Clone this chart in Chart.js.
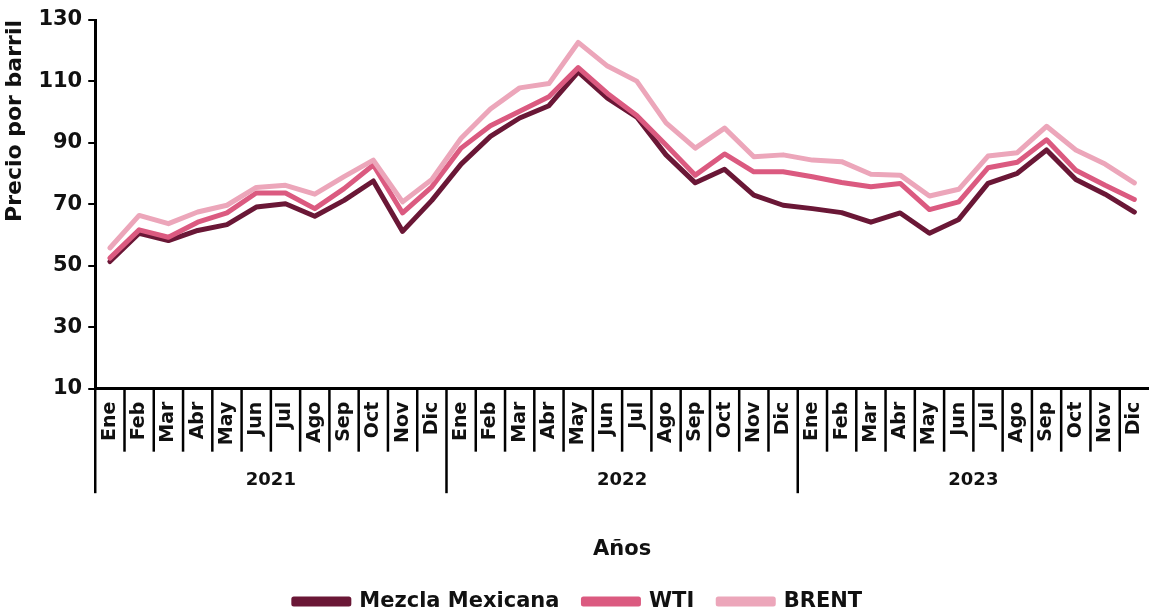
<!DOCTYPE html>
<html>
<head>
<meta charset="utf-8">
<script src="https://cdn.jsdelivr.net/npm/chart.js@4.4.0/dist/chart.umd.min.js"></script>
<style>
  html, body { margin: 0; padding: 0; background: #fff; }
  #wrap { width: 1149px; height: 610px; }
</style>
</head>
<body>
<div id="wrap"><canvas id="grafico"></canvas></div>
<script>
const meses = ["Ene","Feb","Mar","Abr","May","Jun","Jul","Ago","Sep","Oct","Nov","Dic"];
const anios = ["2021","2022","2023"];
const categorias = [].concat(meses, meses, meses);

const mezcla = [51.4, 60.6, 58.2, 61.5, 63.4, 69.1, 70.2, 66.1, 71.3, 77.6, 61.2, 71.3,
                83.1, 92.1, 98.1, 102.1, 113.1, 104.6, 98.4, 86.1, 77.0, 81.4, 73.0, 69.7,
                68.6, 67.3, 64.2, 67.2, 60.6, 65.1, 76.8, 80.1, 87.7, 78.1, 73.3, 67.5];
const wti = [52.5, 61.7, 59.3, 64.2, 67.2, 73.7, 73.7, 68.6, 75.1, 82.8, 67.2, 75.7,
             88.3, 95.6, 100.3, 105.0, 114.5, 106.1, 98.9, 89.3, 79.5, 86.4, 80.6, 80.6,
             79.0, 77.1, 75.7, 76.8, 68.3, 70.8, 81.9, 83.7, 91.0, 81.1, 76.2, 71.6];
const brent = [55.8, 66.4, 63.7, 67.5, 69.7, 75.5, 76.2, 73.3, 79.0, 84.4, 70.8, 78.1,
               91.5, 101.0, 107.9, 109.3, 122.7, 115.0, 110.1, 96.5, 88.3, 94.8, 85.5, 86.1,
               84.4, 83.9, 79.8, 79.5, 72.7, 74.9, 85.7, 86.8, 95.4, 87.7, 83.1, 77.0];

const colores = { mezcla: "#6a1736", wti: "#db5a80", brent: "#eca6ba" };
const fuente = "'DejaVu Sans', sans-serif";

function serie(label, data, color, orden) {
  return {
    label: label,
    data: data,
    borderColor: color,
    backgroundColor: color,
    borderWidth: 5,
    borderCapStyle: "round",
    borderJoinStyle: "round",
    pointRadius: 0,
    tension: 0,
    order: orden,
  };
}

// separadores de meses y años en el eje x (sacados de la escala)
const separadores = {
  id: "separadores",
  afterDraw(chart) {
    const x = chart.scales.x;
    const x2 = chart.scales.x2;
    const c = chart.ctx;
    const paso = x.getPixelForValue(1) - x.getPixelForValue(0);
    c.save();
    c.strokeStyle = "#000";
    c.lineWidth = 2.5;
    for (let i = 0; i < categorias.length; i++) {
      const px = x.getPixelForValue(i) - paso / 2;
      const fin = i % 12 === 0 ? x2.top + 43 : x.top + 63;
      c.beginPath();
      c.moveTo(px, x.top);
      c.lineTo(px, fin);
      c.stroke();
    }
    c.restore();
  },
};

// sin margen extra a los lados por las etiquetas giradas
function sinRelleno(scale) {
  scale.paddingLeft = 0;
  scale.paddingRight = 0;
}

const ctx = document.getElementById("grafico").getContext("2d");
new Chart(ctx, {
  type: "line",
  data: {
    labels: categorias,
    datasets: [
      serie("Mezcla Mexicana", mezcla, colores.mezcla, 3),
      serie("WTI", wti, colores.wti, 2),
      serie("BRENT", brent, colores.brent, 1),
    ],
  },
  plugins: [separadores],
  options: {
    responsive: true,
    maintainAspectRatio: false,
    animation: false,
    layout: { padding: { top: 20, right: -5, left: 2, bottom: -12 } },
    plugins: {
      tooltip: { enabled: false },
      legend: {
        position: "bottom",
        labels: {
          color: "#111",
          font: { family: fuente, size: 21, weight: "bold" },
          boxWidth: 55,
          boxHeight: 5,
          padding: 24,
          sort: (a, b) => a.datasetIndex - b.datasetIndex,
        },
      },
    },
    scales: {
      y: {
        min: 10,
        max: 130,
        ticks: {
          stepSize: 20,
          color: "#111",
          padding: 6,
          font: { family: fuente, size: 21, weight: "bold" },
        },
        grid: { drawOnChartArea: false, color: "#000", lineWidth: 2, tickLength: 7 },
        border: { display: true, color: "#000", width: 3 },
        title: {
          display: true,
          text: "Precio por barril",
          align: "end",
          color: "#111",
          font: { family: fuente, size: 22, weight: "bold" },
          padding: { top: 0, bottom: 4 },
        },
      },
      x: {
        offset: true,
        afterFit: sinRelleno,
        ticks: {
          minRotation: 90,
          maxRotation: 90,
          autoSkip: false,
          color: "#111",
          padding: 5,
          font: { family: fuente, size: 19, weight: "bold" },
        },
        grid: { display: false, offset: true },
        border: { display: true, color: "#000", width: 3 },
      },
      x2: {
        type: "category",
        position: "bottom",
        labels: anios,
        offset: true,
        afterFit: sinRelleno,
        ticks: {
          color: "#111",
          padding: 11,
          font: { family: fuente, size: 18, weight: "bold" },
        },
        grid: { display: false, offset: true },
        border: { display: false },
        title: {
          display: true,
          text: "Años",
          color: "#111",
          font: { family: fuente, size: 21, weight: "bold" },
          padding: { top: 35, bottom: 5 },
        },
      },
    },
  },
});
</script>
</body>
</html>
